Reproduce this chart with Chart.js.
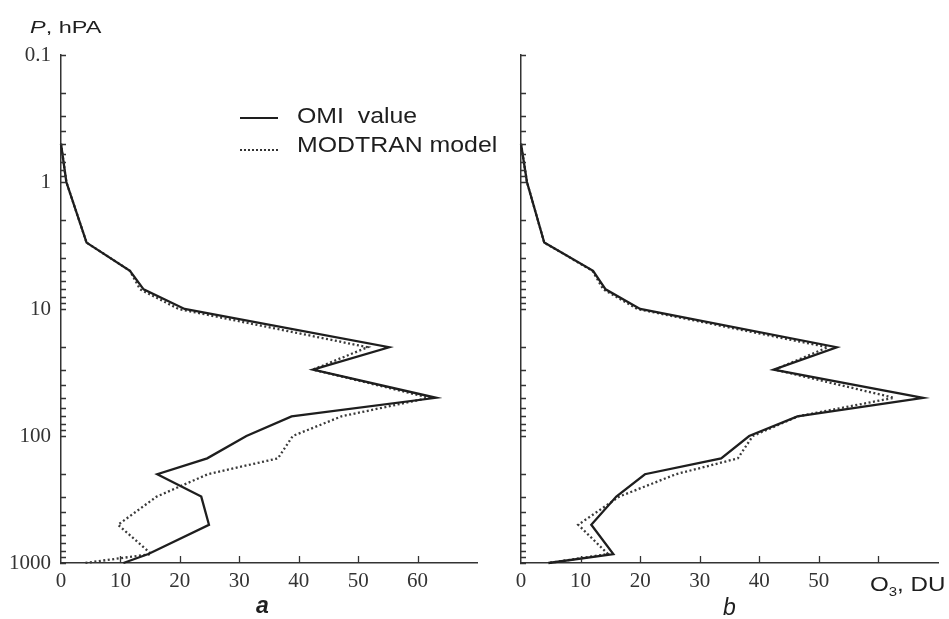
<!DOCTYPE html>
<html>
<head>
<meta charset="utf-8">
<script src="https://cdn.jsdelivr.net/npm/chart.js@4.4.1/dist/chart.umd.min.js"></script>
<style>
  body { margin: 0; background: #fff; }
  #wrap { position: relative; width: 949px; height: 619px; overflow: hidden; font-family: "Liberation Sans", Arial, sans-serif; color: #1e1e1e; }
  #wrap canvas { position: absolute; top: 0; }
  .txt { position: absolute; line-height: 1; white-space: pre; transform-origin: left top; }
  .sample { position: absolute; left: 240px; width: 38px; height: 2px; }
</style>
</head>
<body>
<div id="wrap">
  <canvas id="chartA" width="480" height="619" style="left:0"></canvas>
  <canvas id="chartB" width="469" height="619" style="left:480px"></canvas>

  <div class="txt" style="left:30px; top:19px; font-size:17px; transform:scaleX(1.38);"><i>P</i>, hPA</div>

  <div class="sample" style="top:117px; background:#1e1e1e;"></div>
  <div class="sample" style="top:149px; background:repeating-linear-gradient(to right, #333 0 2px, transparent 2px 4px);"></div>
  <div class="txt" id="leg0" style="left:297px; top:105px; font-size:22px; transform:scaleX(1.13);"></div>
  <div class="txt" id="leg1" style="left:297px; top:134px; font-size:22px; transform:scaleX(1.13);"></div>

  <div class="txt" style="left:256px; top:594px; font-size:23px; font-weight:bold; font-style:italic;">a</div>
  <div class="txt" style="left:723px; top:596px; font-size:23px; font-style:italic;">b</div>
  <div class="txt" style="left:870px; top:573px; font-size:21px; transform:scaleX(1.15);">O<sub style="font-size:13px;">3</sub>, DU</div>
</div>

<script>
// pressure levels, hPa
const pressure = [0.5, 1, 3, 5, 7, 10, 20, 30, 50, 70, 100, 150, 200, 300, 500, 850, 1000];

// panel a
const omiA = [0, 0.9, 4.3, 11.6, 13.9, 20.8, 55.2, 42.4, 63.1, 38.8, 31.2, 24.6, 16.2, 23.6, 24.9, 14.7, 10.5];
const modA = [0, 0.9, 4.3, 11.6, 13.3, 19.8, 51.6, 42.4, 62.0, 47.2, 39.0, 36.5, 24.7, 16.1, 9.6, 15.2, 4.0];

// panel b
const omiB = [0, 1.0, 3.9, 12.1, 14.2, 20.0, 53.0, 42.4, 67.5, 46.4, 38.3, 33.6, 20.8, 16.0, 11.8, 15.5, 4.6];
const modB = [0, 1.0, 3.9, 12.0, 13.8, 19.5, 51.5, 42.6, 62.6, 46.5, 38.9, 36.4, 26.0, 16.5, 9.6, 14.6, 4.6];

const seriesNames = ['OMI  value', 'MODTRAN model'];

const xTicks = [0, 10, 20, 30, 40, 50, 60];
const yTicks = [0.1, 0.2, 0.3, 0.4, 0.5, 0.6, 0.7, 0.8, 0.9,
                1, 2, 3, 4, 5, 6, 7, 8, 9,
                10, 20, 30, 40, 50, 60, 70, 80, 90,
                100, 200, 300, 400, 500, 600, 700, 800, 900, 1000];
const yLabels = [0.1, 1, 10, 100, 1000];

document.getElementById('leg0').textContent = seriesNames[0];
document.getElementById('leg1').textContent = seriesNames[1];

// ticks drawn on the inside of the axes
const innerTicks = {
    id: 'innerTicks',
    afterDatasetsDraw(chart) {
        const ctx = chart.ctx;
        const xs = chart.scales.x, ys = chart.scales.y;
        const area = chart.chartArea;
        ctx.save();
        ctx.strokeStyle = '#333';
        ctx.lineWidth = 1.3;
        ctx.beginPath();
        xs.ticks.forEach(t => {
            if (t.value === 0) return;
            const px = Math.round(xs.getPixelForValue(t.value)) + 0.5;
            ctx.moveTo(px, area.bottom);
            ctx.lineTo(px, area.bottom - 7);
        });
        ys.ticks.forEach(t => {
            const py = Math.round(ys.getPixelForValue(t.value)) + 0.5;
            ctx.moveTo(area.left - 1, py);
            ctx.lineTo(area.left + 5, py);
        });
        ctx.stroke();
        ctx.restore();
    }
};

function makeChart(id, omi, mod, axisWidth, padRight, lastX, showY) {
    const ctx = document.getElementById(id).getContext('2d');
    return new Chart(ctx, {
        type: 'line',
        data: {
            datasets: [{
                label: seriesNames[0],
                data: pressure.map((p, i) => ({ x: omi[i], y: p })),
                borderColor: '#1e1e1e',
                borderWidth: 2.3,
                pointRadius: 0,
                tension: 0,
                clip: false
            }, {
                label: seriesNames[1],
                data: pressure.map((p, i) => ({ x: mod[i], y: p })),
                borderColor: '#3a3a3a',
                borderWidth: 2.3,
                borderDash: [2, 2.5],
                pointRadius: 0,
                tension: 0,
                clip: false
            }]
        },
        options: {
            responsive: false,
            animation: false,
            layout: { padding: { top: 55, right: padRight, bottom: 0, left: 0 } },
            plugins: {
                legend: { display: false },
                tooltip: { enabled: false }
            },
            scales: {
                x: {
                    type: 'linear',
                    min: 0,
                    max: 70,
                    afterBuildTicks: s => { s.ticks = xTicks.map(v => ({ value: v })); },
                    afterFit: s => { s.height = 56; },
                    grid: { display: false, drawTicks: false },
                    border: { display: true, color: '#333', width: 1.5 },
                    ticks: {
                        autoSkip: false,
                        maxRotation: 0,
                        padding: 6,
                        color: '#333',
                        font: { family: 'Liberation Serif', size: 21 },
                        callback: v => (v <= lastX ? String(v) : '')
                    }
                },
                y: {
                    type: 'logarithmic',
                    min: 0.1,
                    max: 1000,
                    reverse: true,
                    afterBuildTicks: s => { s.ticks = yTicks.map(v => ({ value: v })); },
                    afterFit: s => { s.width = axisWidth; },
                    grid: { display: false, drawTicks: false },
                    border: { display: true, color: '#333', width: 1.5 },
                    ticks: {
                        autoSkip: false,
                        padding: 10,
                        color: '#333',
                        font: { family: 'Liberation Serif', size: 21 },
                        callback: v => (showY && yLabels.includes(v) ? String(v) : '')
                    }
                }
            }
        },
        plugins: [innerTicks]
    });
}

makeChart('chartA', omiA, modA, 61, 3, 60, true);
makeChart('chartB', omiB, modB, 41, 11, 50, false);
</script>
</body>
</html>
